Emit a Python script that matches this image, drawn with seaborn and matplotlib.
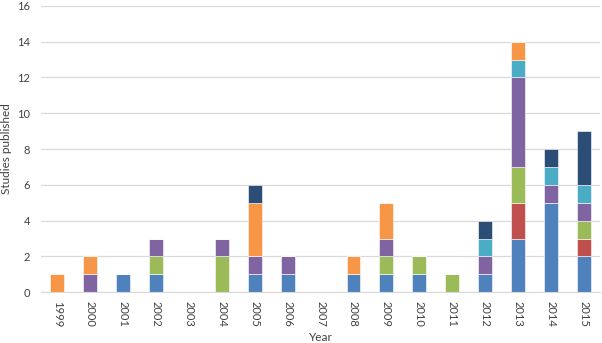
import matplotlib

matplotlib.use("Agg")
import matplotlib.pyplot as plt
import numpy as np
import seaborn as sns

sns.set_style("white")
plt.rcParams["font.family"] = ["Lato", "DejaVu Sans"]

years = [str(y) for y in range(1999, 2016)]

# stacked segments, bottom to top
blue = [0, 0, 1, 1, 0, 0, 1, 1, 0, 1, 1, 1, 0, 1, 3, 5, 2]
red = [0, 0, 0, 0, 0, 0, 0, 0, 0, 0, 0, 0, 0, 0, 2, 0, 1]
green = [0, 0, 0, 1, 0, 2, 0, 0, 0, 0, 1, 1, 1, 0, 2, 0, 1]
purple = [0, 1, 0, 1, 0, 1, 1, 1, 0, 0, 1, 0, 0, 1, 5, 1, 1]
cyan = [0, 0, 0, 0, 0, 0, 0, 0, 0, 0, 0, 0, 0, 1, 1, 1, 1]
orange = [1, 1, 0, 0, 0, 0, 3, 0, 0, 1, 2, 0, 0, 0, 1, 0, 0]
navy = [0, 0, 0, 0, 0, 0, 1, 0, 0, 0, 0, 0, 0, 1, 0, 1, 3]

series = [
    (blue, "#4F81BD"),
    (red, "#C0504D"),
    (green, "#9BBB59"),
    (purple, "#8064A2"),
    (cyan, "#4BACC6"),
    (orange, "#F79646"),
    (navy, "#2C4D75"),
]

fig = plt.figure(figsize=(6.02, 3.43), dpi=100)
ax = fig.add_axes([0.068, 0.148, 0.929, 0.835])

x = np.arange(len(years))
bottom = np.zeros(len(years))
for vals, color in series:
    vals = np.asarray(vals, dtype=float)
    ax.bar(x, vals, bottom=bottom, width=0.42, color=color, edgecolor="white", linewidth=0.4)
    bottom += vals

ax.set_xlim(-0.5, len(years) - 0.5)
ax.set_ylim(0, 16)
ax.set_yticks(range(0, 17, 2))
ax.set_xticks(x)
ax.set_xticklabels(years, rotation=270, fontsize=8, color="#404040")
ax.tick_params(axis="y", labelsize=8, labelcolor="#404040", length=0, pad=8)
ax.tick_params(axis="x", length=0, pad=6)
ax.yaxis.grid(True, color="#D9D9D9", linewidth=0.9)
ax.set_axisbelow(True)
for side in ["left", "right", "top"]:
    ax.spines[side].set_visible(False)
ax.spines["bottom"].set_color("#D9D9D9")
ax.set_xlabel("Year", fontsize=8.5, color="#404040")
ax.set_ylabel("Studies published", fontsize=8.5, color="#404040")
ax.xaxis.set_label_coords(0.5, -0.138)
ax.yaxis.set_label_coords(-0.052, 0.5)

fig.savefig("out.png", dpi=100)
